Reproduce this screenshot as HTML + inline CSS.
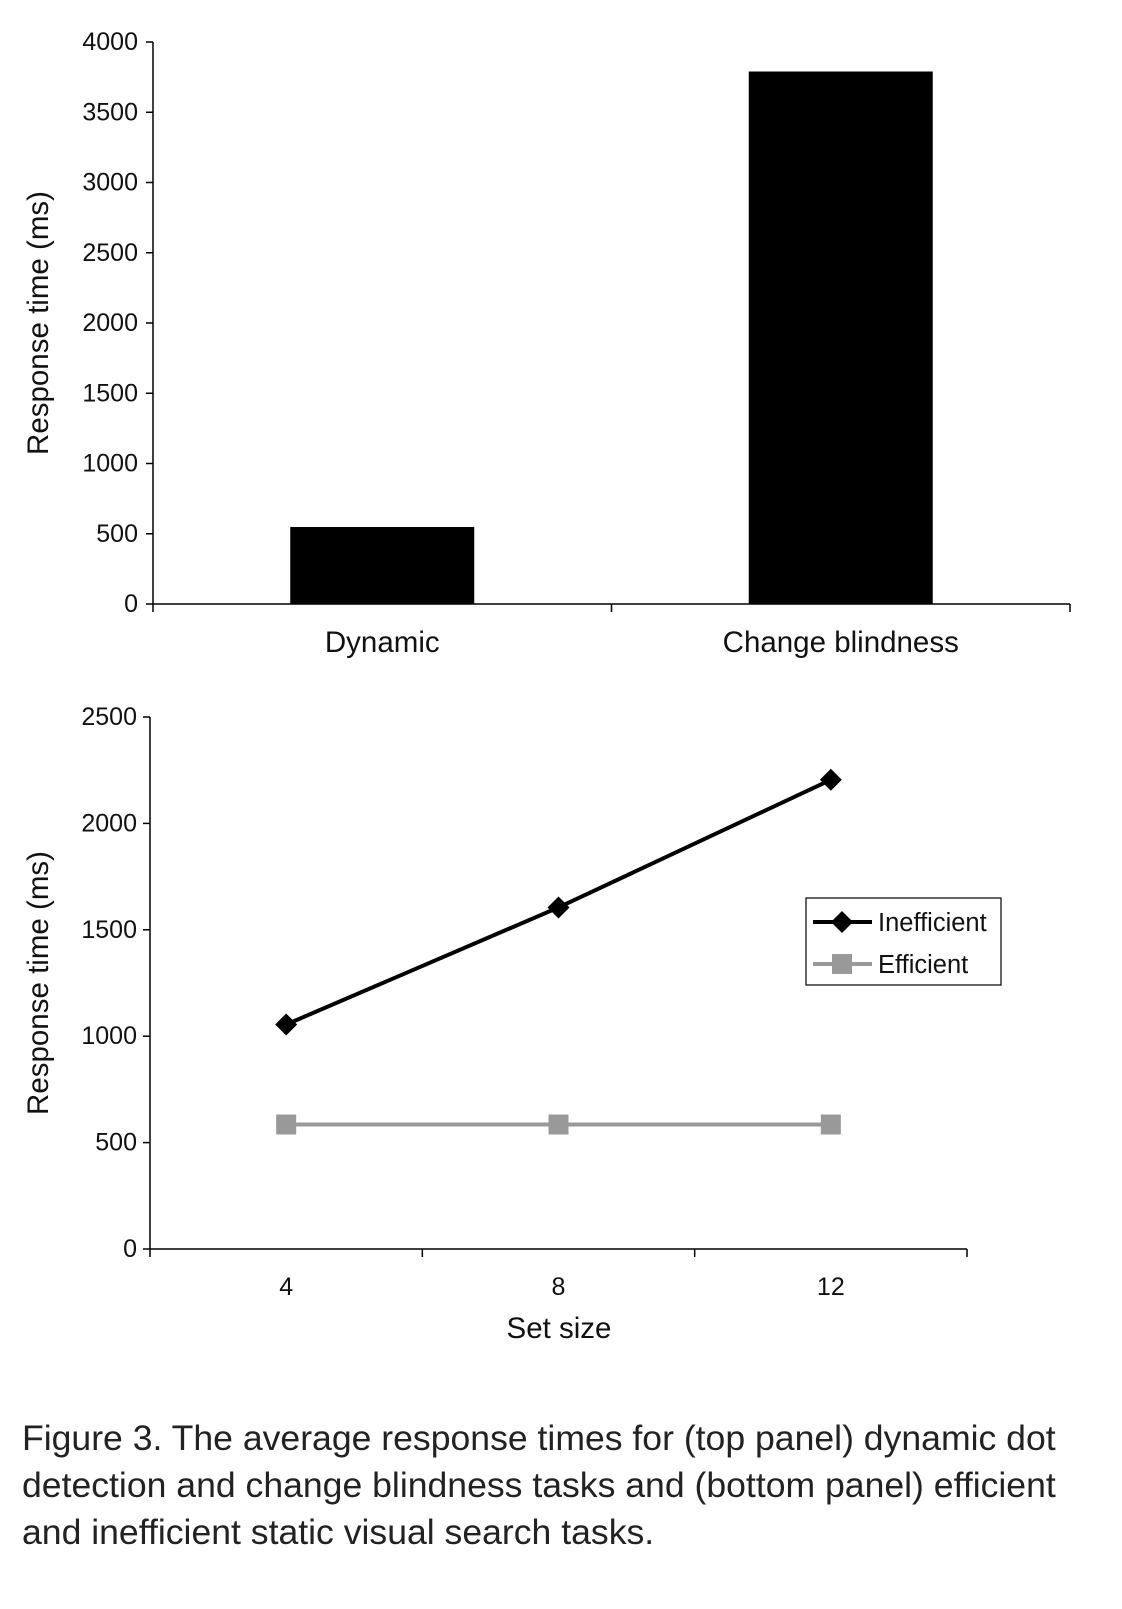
<!DOCTYPE html>
<html><head><meta charset="utf-8"><style>
body{margin:0;background:#fff;width:1122px;height:1604px;overflow:hidden;font-family:"Liberation Sans",Arial,sans-serif;}
svg text{font-family:"Liberation Sans",Arial,sans-serif;fill:#111;}
#cap{position:absolute;left:22px;top:1415px;width:1100px;font-size:35.6px;line-height:47px;color:#222;white-space:nowrap;}
</style></head><body>
<svg id="s" width="1122" height="1604"></svg>
<div id="cap">Figure 3. The average response times for (top panel) dynamic dot<br>detection and change blindness tasks and (bottom panel) efficient<br>and inefficient static visual search tasks.</div>
<script>
const barCats=["Dynamic","Change blindness"];
const barVals=[548,3790];
const barTicks=[0,500,1000,1500,2000,2500,3000,3500,4000];
const lineCats=["4","8","12"];
const ineffVals=[1055,1605,2205];
const effVals=[585,585,585];
const lineTicks=[0,500,1000,1500,2000,2500];
const NS="http://www.w3.org/2000/svg",S=document.getElementById('s');
function el(t,a,txt){const e=document.createElementNS(NS,t);for(const k in a)e.setAttribute(k,a[k]);if(txt!==undefined)e.textContent=txt;S.appendChild(e);return e;}
const tY=v=>604-v*(604-42)/4000, tX0=153,tX1=1070,tW=(tX1-tX0)/barCats.length;
let e;
e=el('line',{x1:tX0,y1:42,x2:tX0,y2:604,stroke:'#000','stroke-width':1.5});

e=el('line',{x1:tX0,y1:604,x2:tX1,y2:604,stroke:'#000','stroke-width':1.5});

barTicks.forEach(v=>{
 el('line',{x1:tX0-7,y1:tY(v),x2:tX0,y2:tY(v),stroke:'#000','stroke-width':1.5});
 e=el('text',{x:tX0-15,y:tY(v)+8,'text-anchor':'end','font-size':25},v);
 
});
for(let i=0;i<=barCats.length;i++)el('line',{x1:tX0+i*tW,y1:604,x2:tX0+i*tW,y2:612,stroke:'#000','stroke-width':1.5});
barCats.forEach((c,i)=>{
 const cx=tX0+(i+0.5)*tW;
 e=el('rect',{x:cx-92,y:tY(barVals[i]),width:184,height:604-tY(barVals[i]),fill:'#000'});
 
 e=el('text',{x:cx,y:652,'text-anchor':'middle','font-size':29.5},c);
 
});
e=el('text',{x:0,y:0,transform:'translate(48,323) rotate(-90)','text-anchor':'middle','font-size':29.5},'Response time (ms)');

const bY=v=>1249-v*(1249-717)/2500, bX0=150,bX1=967,bW=(bX1-bX0)/lineCats.length, bX=i=>bX0+(i+0.5)*bW;
e=el('line',{x1:bX0,y1:717,x2:bX0,y2:1249,stroke:'#000','stroke-width':1.5});

e=el('line',{x1:bX0,y1:1249,x2:bX1,y2:1249,stroke:'#000','stroke-width':1.5});

lineTicks.forEach(v=>{
 el('line',{x1:bX0-7,y1:bY(v),x2:bX0,y2:bY(v),stroke:'#000','stroke-width':1.5});
 e=el('text',{x:bX0-13,y:bY(v)+8,'text-anchor':'end','font-size':25},v);
 
});
for(let i=0;i<=lineCats.length;i++)el('line',{x1:bX0+i*bW,y1:1249,x2:bX0+i*bW,y2:1257,stroke:'#000','stroke-width':1.5});
lineCats.forEach((c,i)=>{
 e=el('text',{x:bX(i),y:1295,'text-anchor':'middle','font-size':25},c);
 
});
e=el('text',{x:559,y:1338,'text-anchor':'middle','font-size':29.5},'Set size');

e=el('text',{x:0,y:0,transform:'translate(48,983) rotate(-90)','text-anchor':'middle','font-size':29.5},'Response time (ms)');

e=el('polyline',{points:effVals.map((v,i)=>bX(i)+','+bY(v)).join(' '),fill:'none',stroke:'#999','stroke-width':4});

effVals.forEach((v,i)=>{e=el('rect',{x:bX(i)-10,y:bY(v)-10,width:20,height:20,fill:'#999'});
 });
e=el('polyline',{points:ineffVals.map((v,i)=>bX(i)+','+bY(v)).join(' '),fill:'none',stroke:'#000','stroke-width':4});

ineffVals.forEach((v,i)=>{const x=bX(i),y=bY(v);e=el('polygon',{points:`${x},${y-11} ${x+11},${y} ${x},${y+11} ${x-11},${y}`,fill:'#000'});
 });
e=el('rect',{x:806,y:898,width:195,height:87,fill:'#fff',stroke:'#000','stroke-width':1.2});

el('line',{x1:813,y1:922,x2:872,y2:922,stroke:'#000','stroke-width':4});
el('polygon',{points:'842,911 853,922 842,933 831,922',fill:'#000'});
e=el('text',{x:878,y:931,'font-size':25.5},'Inefficient');

el('line',{x1:813,y1:964,x2:872,y2:964,stroke:'#999','stroke-width':4});
el('rect',{x:832,y:954,width:20,height:20,fill:'#999'});
e=el('text',{x:878,y:973,'font-size':25.5},'Efficient');

</script>
</body></html>
